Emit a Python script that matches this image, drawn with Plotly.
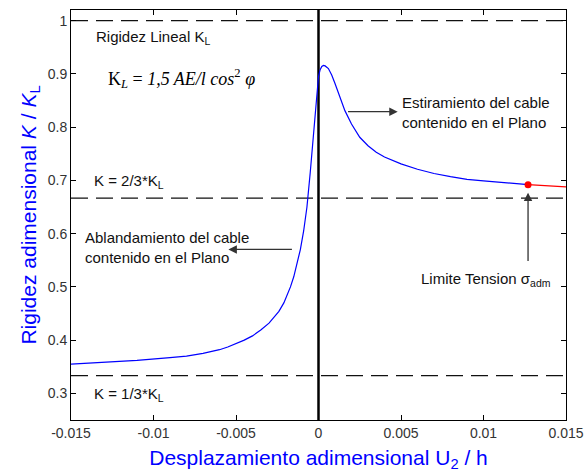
import plotly.graph_objects as go

# Normalised displacement U2/h and normalised stiffness K/K_L
disp = [-0.015, -0.013, -0.011, -0.009, -0.008, -0.007, -0.006, -0.0055, -0.005,
        -0.0045, -0.004, -0.0035, -0.003, -0.0027, -0.0024, -0.0021, -0.0019,
        -0.0017, -0.0015, -0.0013, -0.0011, -0.0009, -0.0007, -0.0005, -0.0003,
        -0.0001, 0.0, 0.0001, 0.0002, 0.0003, 0.0004, 0.0006, 0.0008, 0.001,
        0.0013, 0.0016, 0.002, 0.0025, 0.003, 0.0035, 0.004, 0.0045, 0.005,
        0.006, 0.007, 0.008, 0.009, 0.01, 0.011, 0.012, 0.0127]
stiff = [0.355, 0.358, 0.362, 0.367, 0.370, 0.375, 0.382, 0.387, 0.393,
         0.400, 0.408, 0.419, 0.432, 0.442, 0.454, 0.470, 0.484,
         0.500, 0.519, 0.542, 0.570, 0.605, 0.650, 0.715, 0.790,
         0.865, 0.895, 0.908, 0.914, 0.916, 0.915, 0.910, 0.898, 0.882,
         0.855, 0.831, 0.806, 0.781, 0.765, 0.753, 0.744, 0.737, 0.731,
         0.721, 0.713, 0.707, 0.702, 0.699, 0.696, 0.694, 0.692]

# Branch beyond the admissible stress limit
limit_disp = [0.0127, 0.015]
limit_stiff = [0.692, 0.688]

# Reference stiffness levels: K_L, 2/3 K_L, 1/3 K_L
ref_levels = [1.0, 2.0 / 3.0, 1.0 / 3.0]
x_span = [-0.015, 0.015]
y_span = [0.25, 1.02]

x_ticks = [-0.015, -0.01, -0.005, 0, 0.005, 0.01, 0.015]
x_tick_text = ["-0.015", "-0.01", "-0.005", "0", "0.005", "0.01", "0.015"]
y_ticks = [0.3, 0.4, 0.5, 0.6, 0.7, 0.8, 0.9, 1.0]
y_tick_text = ["0.3", "0.4", "0.5", "0.6", "0.7", "0.8", "0.9", "1"]

SANS = "Liberation Sans, Arial, sans-serif"
SERIF = "Liberation Serif, Times New Roman, serif"

fig = go.Figure()

for level in ref_levels:
    fig.add_trace(go.Scatter(
        x=x_span, y=[level, level], mode="lines",
        line=dict(color="#111111", width=1.2, dash="17px,8px"),
        hoverinfo="skip", showlegend=False))

fig.add_trace(go.Scatter(
    x=[0, 0], y=y_span, mode="lines",
    line=dict(color="black", width=2.5),
    hoverinfo="skip", showlegend=False))

fig.add_trace(go.Scatter(
    x=disp, y=stiff, mode="lines",
    line=dict(color="#0000ff", width=1.2),
    showlegend=False))

fig.add_trace(go.Scatter(
    x=limit_disp, y=limit_stiff, mode="lines",
    line=dict(color="#ff0000", width=1.2),
    showlegend=False))

fig.add_trace(go.Scatter(
    x=[limit_disp[0]], y=[limit_stiff[0]], mode="markers",
    marker=dict(color="#ff0000", size=7),
    showlegend=False))

text_font = dict(family=SANS, size=15, color="#111111")

labels = [
    ("Rigidez Lineal K<sub>L</sub>", -0.0136, 0.968),
    ("K = 2/3*K<sub>L</sub>", -0.01375, 0.697),
    ("K = 1/3*K<sub>L</sub>", -0.01375, 0.297),
    ("Ablandamiento del cable<br>contenido en el Plano", -0.01425, 0.574),
    ("Estiramiento del cable<br>contenido en el Plano", 0.00493, 0.8274),
    ("Limite Tension \u03c3<sub>adm</sub>", 0.00607, 0.513),
]
for txt, xx, yy in labels:
    fig.add_annotation(x=xx, y=yy, xref="x", yref="y", text=txt,
                       showarrow=False, xanchor="left", yanchor="middle",
                       align="left", font=text_font)

fig.add_annotation(
    x=-0.0129, y=0.891, xref="x", yref="y",
    text="K<sub><i>L</i></sub> = <i>1,5 AE/l cos</i><sup>2</sup> <i>\u03c6</i>",
    showarrow=False, xanchor="left", yanchor="middle",
    font=dict(family=SERIF, size=18, color="black"))

# Arrows: (head x, head y, tail x, tail y)
arrows = [
    (-0.00546, 0.5704, -0.00152, 0.5704),
    (0.0048, 0.829, 0.0017, 0.829),
    (0.0127, 0.677, 0.0127, 0.546),
]
for hx, hy, tx, ty in arrows:
    fig.add_annotation(x=hx, y=hy, ax=tx, ay=ty, xref="x", yref="y",
                       axref="x", ayref="y", text="", showarrow=True,
                       arrowhead=2, arrowsize=1.3, arrowwidth=1.3,
                       arrowcolor="#333333", standoff=0, startstandoff=0)

axis_common = dict(showgrid=False, zeroline=False, showline=True,
                   linecolor="black", linewidth=1, mirror="ticks",
                   ticks="inside", ticklen=5, tickcolor="black",
                   tickfont=dict(family=SANS, size=14, color="#333333"))

fig.update_xaxes(range=x_span, tickvals=x_ticks, ticktext=x_tick_text,
                 title=dict(text="Desplazamiento adimensional U<sub>2</sub> / h",
                            font=dict(family=SANS, size=21, color="#0000ff"),
                            standoff=11),
                 **axis_common)
fig.update_yaxes(range=y_span, tickvals=y_ticks, ticktext=y_tick_text,
                 title=dict(text="Rigidez adimensional <i>K</i> / <i>K</i><sub>L</sub>",
                            font=dict(family=SANS, size=21, color="#0000ff"),
                            standoff=5),
                 **axis_common)

fig.update_layout(width=585, height=472,
                  margin=dict(l=71, r=19, t=10, b=52, autoexpand=False),
                  paper_bgcolor="white", plot_bgcolor="white")

fig.write_html("out.html")
